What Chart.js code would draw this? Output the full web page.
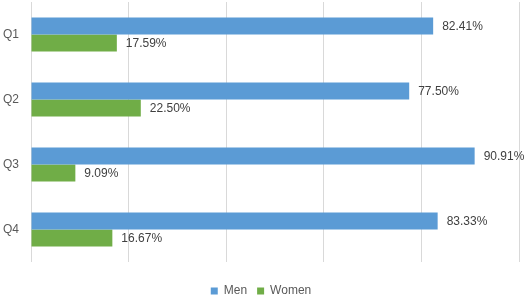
<!DOCTYPE html>
<html>
<head>
<meta charset="utf-8">
<script src="https://cdn.jsdelivr.net/npm/chart.js@4/dist/chart.umd.min.js"></script>
<style>
    html, body { margin: 0; padding: 0; background: #fff; }
</style>
</head>
<body>
<canvas id="grafico" width="526" height="298"></canvas>
<script>
let trimestres = ["Q1", "Q2", "Q3", "Q4"];
let hombres = [82.41, 77.50, 90.91, 83.33];
let mujeres = [17.59, 22.50, 9.09, 16.67];

// etiquetas de valor al final de cada barra
const etiquetas = {
    id: "etiquetas",
    afterDatasetsDraw(chart) {
        const ctx = chart.ctx;
        ctx.save();
        ctx.font = "12px 'Liberation Sans'";
        ctx.fillStyle = "#404040";
        ctx.textBaseline = "middle";
        chart.data.datasets.forEach((ds, i) => {
            chart.getDatasetMeta(i).data.forEach((bar, j) => {
                ctx.fillText(ds.data[j].toFixed(2) + "%", bar.x + 9, bar.y + 1);
            });
        });
        ctx.restore();
    }
};

const ctx = document.getElementById("grafico").getContext("2d");
new Chart(ctx, {
    type: "bar",
    data: {
        labels: trimestres,
        datasets: [
            {
                label: "Men",
                data: hombres,
                backgroundColor: "#5B9BD5",
                barPercentage: 1,
                categoryPercentage: 0.52
            },
            {
                label: "Women",
                data: mujeres,
                backgroundColor: "#70AD47",
                barPercentage: 1,
                categoryPercentage: 0.52
            }
        ]
    },
    options: {
        indexAxis: "y",
        responsive: false,
        animation: false,
        layout: { padding: { top: 2, right: 7, bottom: -9, left: 3 } },
        scales: {
            x: {
                min: 0,
                max: 100,
                ticks: { display: false, stepSize: 20 },
                grid: { color: "#d9d9d9", drawTicks: false },
                border: { display: false },
                afterFit: (escala) => { escala.height = 13; }
            },
            y: {
                grid: { display: false, drawTicks: false },
                border: { display: false },
                ticks: {
                    color: "#595959",
                    padding: 0,
                    crossAlign: "far",
                    font: { family: "Liberation Sans", size: 12 }
                },
                afterFit: (escala) => {
                    escala.width = 28;
                    escala.paddingTop = 0;
                    escala.paddingBottom = 0;
                }
            }
        },
        plugins: {
            legend: {
                position: "bottom",
                labels: {
                    boxWidth: 7,
                    boxHeight: 7,
                    padding: 10,
                    color: "#595959",
                    font: { family: "Liberation Sans", size: 12 }
                }
            },
            tooltip: { enabled: false }
        }
    },
    plugins: [etiquetas]
});
</script>
</body>
</html>
